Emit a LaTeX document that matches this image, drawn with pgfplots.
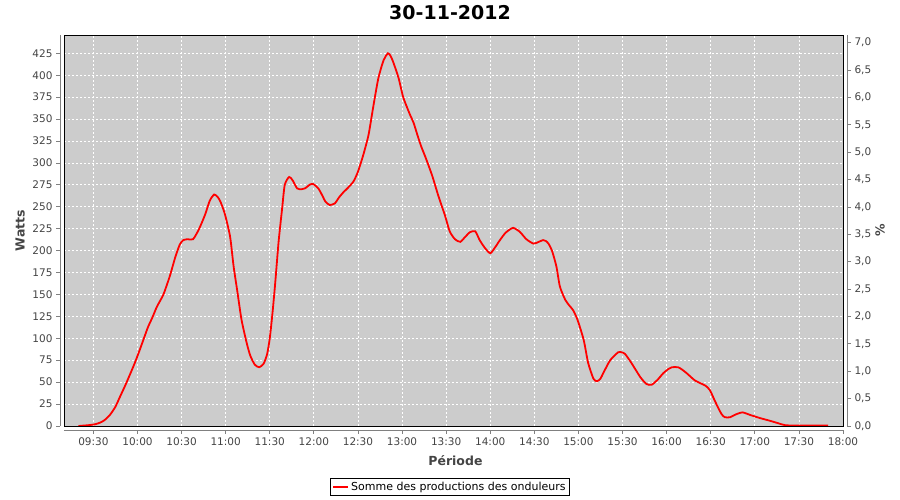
\documentclass[border=0pt]{standalone}
\usepackage{fontspec}
\setmainfont{DejaVu Sans}
\usepackage{pgfplots}
\pgfplotsset{compat=1.18}
\definecolor{bgg}{RGB}{204,204,204}
\definecolor{axg}{RGB}{128,128,128}
\definecolor{tkl}{RGB}{68,68,68}
\pgfplotstableread{
t w
9.33 0
9.45 1
9.52 2
9.58 4
9.63 7
9.69 13
9.75 22
9.80 33
9.86 46
9.92 60
9.97 72
10.03 88
10.08 102
10.12 113
10.17 124
10.22 136
10.29 149
10.33 160
10.37 172
10.43 193
10.48 207
10.52 212
10.57 213
10.63 213
10.69 223
10.73 232
10.77 242
10.82 257
10.87 264
10.91 261
10.94 256
10.99 242
11.05 216
11.09 182
11.13 155
11.18 121
11.24 94
11.28 80
11.33 70
11.38 67
11.43 71
11.47 82
11.50 100
11.53 128
11.56 161
11.60 210
11.64 248
11.67 275
11.72 284
11.76 280
11.81 271
11.86 270
11.90 271
11.95 275
11.99 276
12.05 271
12.10 262
12.13 256
12.18 252
12.24 254
12.28 260
12.33 266
12.39 272
12.45 279
12.50 290
12.56 309
12.62 332
12.67 362
12.73 396
12.79 417
12.84 425
12.87 422
12.90 415
12.96 397
13.01 376
13.05 365
13.09 355
13.13 346
13.18 330
13.22 318
13.26 308
13.34 286
13.41 263
13.49 239
13.54 222
13.60 213
13.66 210
13.71 215
13.77 221
13.83 222
13.88 212
13.94 203
14.00 197
14.05 203
14.11 212
14.17 220
14.22 224
14.26 226
14.30 224
14.34 221
14.41 213
14.49 208
14.55 210
14.60 212
14.63 211
14.66 208
14.70 200
14.75 182
14.79 159
14.85 144
14.90 137
14.94 132
14.99 121
15.06 98
15.11 72
15.17 54
15.21 51
15.25 54
15.28 60
15.36 75
15.45 84
15.49 84
15.53 82
15.60 72
15.70 56
15.77 48
15.83 47
15.90 53
15.96 60
16.02 65
16.06 67
16.13 67
16.18 64
16.23 60
16.32 52
16.40 48
16.44 46
16.49 41
16.55 28
16.62 14
16.66 10
16.72 10
16.78 13
16.86 15.5
16.95 12.5
17.06 9
17.17 6
17.27 3
17.34 1
17.45 0.5
17.83 0.5
}\prod
\pgfplotsset{
  common/.style={
    scale only axis,
    xmin=9.1667, xmax=18,
    ymin=0, ymax=445.9,
    height=391pt,
    tick label style={font=\fontsize{10.5}{12}\selectfont, text=tkl},
    /pgf/number format/assume math mode=true,
    tick align=outside,
    major tick length=4pt,
    tick style={draw=axg, line width=0.8pt},
    axis line style={draw=axg, line width=0.8pt},
  }
}
\begin{document}
\begin{tikzpicture}[x=1pt,y=1pt]
\useasboundingbox (0,0) rectangle (900,500);
% main plot area
\begin{axis}[
  at={(64pt,74pt)}, anchor=south west,
  scale only axis, width=779pt, height=391pt,
  xmin=9.1667, xmax=18, ymin=0, ymax=445.9,
  axis background/.style={fill=bgg},
  axis line style={draw=black, line width=0.8pt},
  xtick={9.5,10,...,17.5}, ytick={0,25,...,425},
  xticklabels={}, yticklabels={},
  major tick length=0pt,
  grid=major,
  grid style={draw=white, line width=0.8pt, dash pattern=on 2pt off 2pt},
  title={30-11-2012},
  title style={at={(axis description cs:0.4955,1.041)}, anchor=center, font=\fontsize{19}{22}\selectfont\bfseries},
  legend style={at={(axis description cs:0.4955,-0.156)}, anchor=center, draw=black, line width=0.8pt, fill=white,
    font=\fontsize{11}{13}\selectfont, inner xsep=2pt, inner ysep=1.5pt},
  legend image code/.code={\draw[red, line width=1.8pt] (0pt,0pt) -- (15pt,0pt);},
]
\addplot[red, line width=1.8pt, smooth, tension=0.4] table[x=t, y=w] {\prod};
\addlegendentry{Somme des productions des onduleurs}
\end{axis}
% left axis
\begin{axis}[common,
  at={(60pt,74pt)}, anchor=south west, width=783pt,
  axis y line*=left, axis x line=none,
  ytick={0,25,...,425},
  ylabel={Watts},
  ylabel style={at={(axis description cs:-0.051,0.5)}, anchor=center, font=\fontsize{12.5}{14}\selectfont\bfseries, text=tkl},
]
\end{axis}
% bottom axis
\begin{axis}[common,
  at={(64pt,70pt)}, anchor=south west, width=779pt,
  axis x line*=bottom, axis y line=none,
  xtick={9.5,10,...,18},
  xticklabels={09:30,10:00,10:30,11:00,11:30,12:00,12:30,13:00,13:30,14:00,14:30,15:00,15:30,16:00,16:30,17:00,17:30,18:00},
  xlabel={Période},
  xlabel style={at={(axis description cs:0.5025,-0.077)}, anchor=center, font=\fontsize{12.5}{14}\selectfont\bfseries, text=tkl},
]
\end{axis}
% right axis
\begin{axis}[common,
  at={(68pt,74pt)}, anchor=south west, width=779pt,
  ymin=0, ymax=7.14,
  axis y line*=right, axis x line=none,
  ytick={0,0.5,...,7.0},
  yticklabel style={/pgf/number format/.cd, fixed, fixed zerofill, precision=1, use comma},
  ylabel={\%},
  ylabel style={at={(axis description cs:1.0424,0.5)}, anchor=center, font=\fontsize{12.5}{14}\selectfont\bfseries, text=tkl},
]
\end{axis}
\end{tikzpicture}
\end{document}
